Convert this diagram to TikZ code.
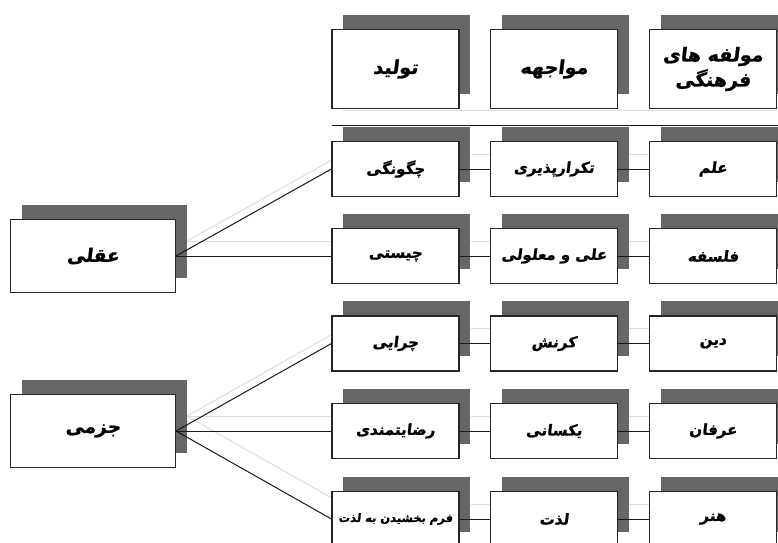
\documentclass[tikz,border=0pt]{standalone}
\usepackage{fontspec}
\newfontfamily\fa[Script=Arabic,FakeSlant=0.12,BoldFeatures={FakeBold=1.2,FakeSlant=0.12}]{DejaVu Sans}
\TeXXeTstate=1
\usetikzlibrary{shadows,backgrounds}
\definecolor{shadowgray}{HTML}{666666}
\definecolor{ghostgray}{HTML}{DDDDDD}
\tikzset{
  card/.style={draw=black!85, line width=1.1pt, fill=white, rectangle,
    minimum width=127pt, minimum height=55pt, inner sep=2pt, align=center,
    font=\fa\bfseries\fontsize{15}{18}\selectfont,
    general shadow={fill=shadowgray, shadow xshift=11pt, shadow yshift=15pt}},
  headcard/.style={card, minimum height=79pt, font=\fa\bfseries\fontsize{19}{25}\selectfont},
  sidecard/.style={card, minimum width=165pt, minimum height=73pt, font=\fa\bfseries\fontsize{18.5}{22}\selectfont},
  smallcard/.style={card, font=\fa\bfseries\fontsize{11.5}{14}\selectfont},
  link/.style={draw=black!90, line width=1pt},
  ghost/.style={draw=ghostgray, line width=1pt},
}
\newcommand{\rtl}[1]{\beginR #1\endR}
\begin{document}
\begin{tikzpicture}[x=1pt,y=-1pt]
\useasboundingbox (0,0) rectangle (778,542);
\clip (0,0) rectangle (778,542);
% header
\node[headcard] (h1) at (395.5,69) {\rtl{تولید}};
\node[headcard] (h2) at (554,69) {\rtl{مواجهه}};
\node[headcard] (h3) at (713,69) {\rtl{مولفه های}\\\rtl{فرهنگی}};
% rows
\node[card] (r1c1) at (395.5,169) {\rtl{چگونگی}};
\node[card] (r1c2) at (554,169) {\rtl{تکرارپذیری}};
\node[card] (r1c3) at (713,169) {\rtl{علم}};
\node[card] (r2c1) at (395.5,256) {\rtl{چیستی}};
\node[card] (r2c2) at (554,256) {\rtl{علی و معلولی}};
\node[card] (r2c3) at (713,256) {\rtl{فلسفه}};
\node[card] (r3c1) at (395.5,343.5) {\rtl{چرایی}};
\node[card] (r3c2) at (554,343.5) {\rtl{کرنش}};
\node[card] (r3c3) at (713,343.5) {\rtl{دین}};
\node[card] (r4c1) at (395.5,431) {\rtl{رضایتمندی}};
\node[card] (r4c2) at (554,431) {\rtl{یکسانی}};
\node[card] (r4c3) at (713,431) {\rtl{عرفان}};
\node[smallcard] (r5c1) at (395.5,519) {\rtl{فرم بخشیدن به لذت}};
\node[card] (r5c2) at (554,519) {\rtl{لذت}};
\node[card] (r5c3) at (713,519) {\rtl{هنر}};
% left
\node[sidecard] (aq) at (93,256) {\rtl{عقلی}};
\node[sidecard] (jz) at (93,431) {\rtl{جزمی}};
% top rule
\coordinate (hl) at (332,125);
\coordinate (hr) at (790,125);
% ghost lines
\begin{scope}[on background layer]
  \draw[ghost] ([shift={(11,-15)}]hl) -- ([shift={(11,-15)}]hr);
  \foreach \r in {1,...,5}{
    \draw[ghost] ([shift={(11,-15)}]r\r c1.east) -- ([shift={(11,-15)}]r\r c2.west);
    \draw[ghost] ([shift={(11,-15)}]r\r c2.east) -- ([shift={(11,-15)}]r\r c3.west);
  }
  \foreach \r in {1,2}{
    \draw[ghost] ([shift={(11,-15)}]aq.east) -- ([shift={(11,-15)}]r\r c1.west);
  }
  \foreach \r in {3,4,5}{
    \draw[ghost] ([shift={(11,-15)}]jz.east) -- ([shift={(11,-15)}]r\r c1.west);
  }
\end{scope}
% main connectors
\draw[link] (hl) -- (hr);
\foreach \r in {1,...,5}{
  \draw[link] (r\r c1.east) -- (r\r c2.west);
  \draw[link] (r\r c2.east) -- (r\r c3.west);
}
\foreach \r in {1,2}{ \draw[link] (aq.east) -- (r\r c1.west); }
\foreach \r in {3,4,5}{ \draw[link] (jz.east) -- (r\r c1.west); }
\end{tikzpicture}
\end{document}
